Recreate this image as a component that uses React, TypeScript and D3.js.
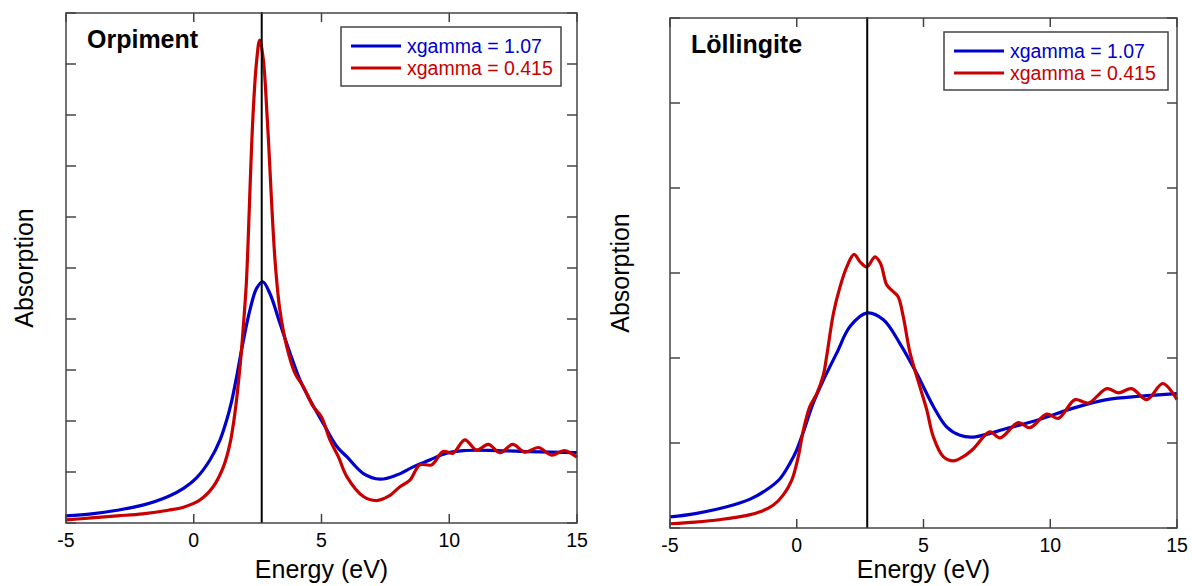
import * as d3 from "d3";

// energy axis, both panels
const xTicks = [-5, 0, 5, 10, 15];

// Orpiment
const orpBlueE = [-5, -4, -3, -2, -1, -0.4, 0.1, 0.64, 1.03, 1.29, 1.48, 1.68, 1.87, 2.2, 2.46, 2.7, 2.98, 3.37, 3.77, 4.16, 4.55, 5.07, 5.6, 5.99, 6.64, 7.29, 7.94, 8.59, 9.25, 9.9, 10.55, 11.86, 13.16, 15];
const orpBlueA = [0.14, 0.18, 0.25, 0.35, 0.52, 0.68, 0.88, 1.24, 1.63, 2.02, 2.38, 2.87, 3.39, 4.18, 4.6, 4.73, 4.5, 3.92, 3.33, 2.8, 2.41, 1.95, 1.5, 1.3, 0.97, 0.86, 0.94, 1.1, 1.24, 1.37, 1.42, 1.42, 1.4, 1.38];
const orpRedE = [-5, -4, -3, -2, -1, -0.4, 0.24, 0.76, 1.16, 1.42, 1.61, 1.81, 1.94, 2.05, 2.1, 2.31, 2.45, 2.58, 2.72, 2.88, 3.18, 3.37, 3.64, 3.96, 4.29, 4.68, 5.0, 5.33, 5.66, 5.99, 6.64, 7.16, 7.61, 8.07, 8.46, 8.85, 9.31, 9.76, 10.15, 10.61, 11.07, 11.53, 11.99, 12.48, 12.96, 13.49, 14.01, 14.5, 15];
const orpRedA = [0.06, 0.1, 0.14, 0.18, 0.25, 0.31, 0.45, 0.71, 1.1, 1.56, 2.15, 3.06, 3.85, 4.63, 5.16, 7.9, 9.0, 9.47, 9.1, 7.9, 5.16, 4.18, 3.46, 2.94, 2.67, 2.28, 2.08, 1.63, 1.3, 0.91, 0.52, 0.44, 0.52, 0.71, 0.84, 1.14, 1.14, 1.4, 1.37, 1.63, 1.43, 1.54, 1.38, 1.54, 1.39, 1.48, 1.33, 1.42, 1.29];
const orpYTicks = [0, 1, 2, 3, 4, 5, 6, 7, 8, 9, 10];
const orpEdge = 2.66;

// Löllingite
const lolBlueE = [-5, -4, -2.76, -1.84, -1.19, -0.66, -0.27, 0, 0.26, 0.65, 1.05, 1.58, 2.1, 2.78, 3.42, 4.07, 4.73, 5.39, 5.91, 6.44, 6.96, 8.28, 9.6, 10.91, 12.23, 13.54, 15];
const lolBlueA = [0.13, 0.17, 0.25, 0.34, 0.45, 0.58, 0.76, 0.92, 1.13, 1.47, 1.74, 2.06, 2.37, 2.53, 2.45, 2.17, 1.82, 1.43, 1.19, 1.09, 1.07, 1.17, 1.28, 1.41, 1.51, 1.55, 1.58];
const lolRedE = [-5, -4, -3, -2, -1.45, -0.92, -0.53, -0.2, 0.06, 0.26, 0.52, 0.79, 1.05, 1.18, 1.45, 1.71, 1.97, 2.26, 2.5, 2.76, 3.09, 3.31, 3.55, 3.81, 4.0, 4.2, 4.47, 4.86, 5.13, 5.39, 5.78, 6.18, 6.57, 6.96, 7.62, 8.02, 8.74, 9.2, 9.86, 10.32, 10.98, 11.5, 12.23, 12.69, 13.21, 13.81, 14.44, 15];
const lolRedA = [0.05, 0.07, 0.1, 0.145, 0.19, 0.27, 0.39, 0.56, 0.84, 1.15, 1.43, 1.58, 1.8, 2.02, 2.53, 2.84, 3.07, 3.22, 3.13, 3.07, 3.19, 3.11, 2.86, 2.78, 2.72, 2.49, 2.06, 1.66, 1.39, 1.07, 0.84, 0.79, 0.84, 0.93, 1.13, 1.06, 1.24, 1.18, 1.34, 1.29, 1.51, 1.47, 1.64, 1.59, 1.64, 1.51, 1.7, 1.51];
const lolYTicks = [0, 1, 2, 3, 4, 5, 6];
const lolEdge = 2.78;

const legendLabels = ["xgamma = 1.07", "xgamma = 0.415"];
const BLUE = "#0000cd";
const RED = "#c80000";
const FRAME = "#444";
const FONT = "'Liberation Sans', Arial, sans-serif";

const zip = (xs: number[], ys: number[]) => xs.map((x, i) => [x, ys[i]] as [number, number]);

type PanelProps = {
  title: string;
  left: number; right: number; top: number; bottom: number;
  yTicks: number[];
  blue: [number, number][];
  red: [number, number][];
  edge: number;
  legend: { x: number; y: number; w: number; h: number };
  yLabelX: number;
};

const Panel = ({ title, left, right, top, bottom, yTicks, blue, red, edge, legend, yLabelX }: PanelProps) => {
  const x = d3.scaleLinear().domain([-5, 15]).range([left, right]);
  const y = d3.scaleLinear().domain([0, d3.max(yTicks) as number]).range([bottom, top]);
  const line = d3.line<[number, number]>()
    .x(d => x(d[0]))
    .y(d => y(d[1]))
    .curve(d3.curveCatmullRom.alpha(0.5));
  const tl = 9;

  return (
    <g>
      {/* curves */}
      <path d={line(blue) || ""} fill="none" stroke={BLUE} strokeWidth={3.2} />
      <path d={line(red) || ""} fill="none" stroke={RED} strokeWidth={3.2} />
      {/* absorption edge marker */}
      <line x1={x(edge)} x2={x(edge)} y1={top - 1} y2={bottom} stroke="#000" strokeWidth={2} />

      {/* frame */}
      <rect x={left} y={top} width={right - left} height={bottom - top} fill="none" stroke={FRAME} strokeWidth={1.5} />
      {xTicks.map(t => (
        <g key={"x" + t}>
          <line x1={x(t)} x2={x(t)} y1={bottom} y2={bottom - tl} stroke={FRAME} strokeWidth={1.5} />
          <line x1={x(t)} x2={x(t)} y1={top} y2={top + tl} stroke={FRAME} strokeWidth={1.5} />
          <text x={x(t)} y={bottom + 24} textAnchor="middle" fontSize={19.5} fontFamily={FONT}>{t}</text>
        </g>
      ))}
      {yTicks.map(t => (
        <g key={"y" + t}>
          <line x1={left} x2={left + tl + 1} y1={y(t)} y2={y(t)} stroke={FRAME} strokeWidth={1.5} />
          <line x1={right} x2={right - tl - 1} y1={y(t)} y2={y(t)} stroke={FRAME} strokeWidth={1.5} />
        </g>
      ))}

      {/* labels */}
      <text x={(left + right) / 2} y={578} textAnchor="middle" fontSize={25} fontFamily={FONT}>Energy (eV)</text>
      <text transform={`translate(${yLabelX},${(top + bottom) / 2}) rotate(-90)`} textAnchor="middle" fontSize={25} fontFamily={FONT}>Absorption</text>
      <text x={left + 21} y={top + 35} fontSize={25} fontWeight="bold" fontFamily={FONT}>{title}</text>

      {/* legend */}
      <rect x={legend.x} y={legend.y} width={legend.w} height={legend.h} fill="#fff" stroke={FRAME} strokeWidth={1.5} />
      {[BLUE, RED].map((c, i) => (
        <g key={c}>
          <line x1={legend.x + 10} x2={legend.x + 60} y1={legend.y + 19 + i * 22} y2={legend.y + 19 + i * 22} stroke={c} strokeWidth={3.2} />
          <text x={legend.x + 66} y={legend.y + 26 + i * 22} fontSize={19.5} fontFamily={FONT} fill={c}>{legendLabels[i]}</text>
        </g>
      ))}
    </g>
  );
};

export default function App() {
  return (
    <svg width={1192} height={586} style={{ position: "absolute", left: 0, top: 0, background: "#fff" }}>
      <Panel
        title="Orpiment"
        left={66} right={577} top={13} bottom={523}
        yTicks={orpYTicks}
        blue={zip(orpBlueE, orpBlueA)}
        red={zip(orpRedE, orpRedA)}
        edge={orpEdge}
        legend={{ x: 341, y: 27, w: 220, h: 59 }}
        yLabelX={33}
      />
      <Panel
        title="Löllingite"
        left={670} right={1177} top={18} bottom={528}
        yTicks={lolYTicks}
        blue={zip(lolBlueE, lolBlueA)}
        red={zip(lolRedE, lolRedA)}
        edge={lolEdge}
        legend={{ x: 944, y: 32, w: 224, h: 58 }}
        yLabelX={629}
      />
    </svg>
  );
}
